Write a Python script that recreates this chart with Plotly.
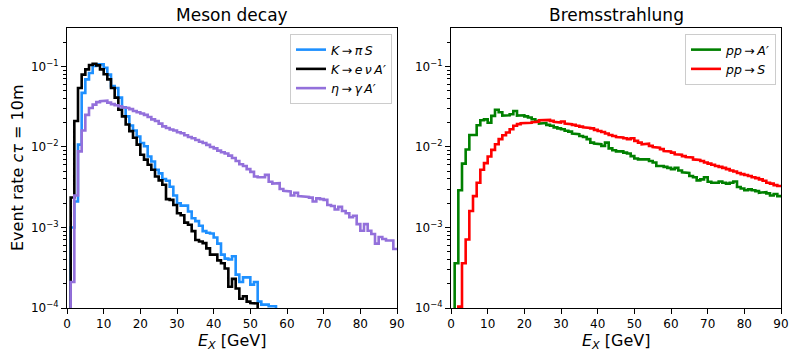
import math
import plotly.graph_objects as go

# ---------------- data (1 GeV bins, edges 0..90) ----------------
bin_edges = list(range(0, 91))

K_pi_S = [
    0, 1.0e-3, 2.1e-3, 1.07e-2, 4.7e-2, 6.9e-2, 8.3e-2, 0.101, 0.106, 0.106,
    0.096, 0.079, 0.057, 0.054, 0.041, 0.031, 0.024, 0.0185, 0.016, 0.0135,
    0.0112, 0.0102, 7.6e-3, 6.6e-3, 5.2e-3, 4.7e-3, 4.0e-3, 3.8e-3, 3.2e-3, 2.5e-3,
    2.0e-3, 1.87e-3, 1.87e-3, 1.58e-3, 1.3e-3, 1.2e-3, 1.05e-3, 9.0e-4, 8.6e-4, 8.4e-4,
    7.5e-4, 6.3e-4, 4.6e-4, 4.1e-4, 4.0e-4, 4.4e-4, 2.6e-4, 2.1e-4, 2.4e-4, 2.4e-4,
    1.95e-4, 2.1e-4, 1.2e-4, 1.1e-4, 1.1e-4, 1.05e-4, 1.05e-4, 0, 0, 0,
    0, 0, 0, 0, 0, 0, 0, 0, 0, 0,
    0, 0, 0, 0, 0, 0, 0, 0, 0, 0,
    0, 0, 0, 0, 0, 0, 0, 0, 0, 0,
]

K_e_nu_A = [
    0, 2.36e-3, 2.1e-2, 5.4e-2, 7.9e-2, 9.2e-2, 0.104, 0.108, 0.103, 0.092,
    0.080, 0.069, 0.054, 0.041, 0.029, 0.024, 0.019, 0.0157, 0.013, 0.0107,
    8.0e-3, 6.95e-3, 6.0e-3, 5.2e-3, 4.3e-3, 3.84e-3, 3.4e-3, 2.25e-3, 2.2e-3, 1.9e-3,
    1.5e-3, 1.42e-3, 1.15e-3, 1.08e-3, 9.0e-4, 7.0e-4, 6.7e-4, 6.4e-4, 5.5e-4, 4.6e-4,
    4.6e-4, 3.9e-4, 3.6e-4, 3.1e-4, 1.84e-4, 2.3e-4, 1.75e-4, 1.3e-4, 1.4e-4, 1.2e-4,
    1.15e-4, 1.14e-4, 0, 0, 0, 0, 0, 0, 0, 0,
    0, 0, 0, 0, 0, 0, 0, 0, 0, 0,
    0, 0, 0, 0, 0, 0, 0, 0, 0, 0,
    0, 0, 0, 0, 0, 0, 0, 0, 0, 0,
]

eta_gamma_A = [
    0, 2.1e-4, 2.5e-3, 8.8e-3, 1.6e-2, 2.5e-2, 3.05e-2, 3.35e-2, 3.6e-2, 3.7e-2,
    3.75e-2, 3.55e-2, 3.4e-2, 3.3e-2, 3.2e-2, 3.1e-2, 3.05e-2, 2.95e-2, 2.8e-2, 2.7e-2,
    2.6e-2, 2.5e-2, 2.35e-2, 2.2e-2, 2.1e-2, 1.95e-2, 1.8e-2, 1.72e-2, 1.65e-2, 1.6e-2,
    1.52e-2, 1.48e-2, 1.4e-2, 1.33e-2, 1.28e-2, 1.22e-2, 1.16e-2, 1.12e-2, 1.06e-2, 1.0e-2,
    9.6e-3, 9.0e-3, 8.6e-3, 8.3e-3, 7.8e-3, 7.3e-3, 6.7e-3, 6.1e-3, 5.8e-3, 5.3e-3,
    4.9e-3, 4.3e-3, 4.2e-3, 4.2e-3, 4.5e-3, 3.7e-3, 3.5e-3, 3.55e-3, 3.0e-3, 2.85e-3,
    2.8e-3, 2.5e-3, 2.7e-3, 2.45e-3, 2.4e-3, 2.4e-3, 2.35e-3, 2.1e-3, 2.3e-3, 2.25e-3,
    2.2e-3, 1.9e-3, 1.85e-3, 1.67e-3, 1.8e-3, 1.6e-3, 1.5e-3, 1.34e-3, 1.4e-3, 1.1e-3,
    9.1e-4, 1.1e-3, 9.1e-4, 8.3e-4, 6.3e-4, 7.6e-4, 7.2e-4, 6.9e-4, 6.9e-4, 5.4e-4,
]

pp_A = [
    0, 3.6e-4, 2.9e-3, 6.2e-3, 9.3e-3, 1.41e-2, 1.41e-2, 1.86e-2, 2.15e-2, 2.2e-2,
    2.0e-2, 2.43e-2, 2.9e-2, 2.7e-2, 2.45e-2, 2.47e-2, 2.55e-2, 2.8e-2, 2.45e-2, 2.47e-2,
    2.4e-2, 2.32e-2, 2.21e-2, 2.1e-2, 1.95e-2, 1.98e-2, 1.88e-2, 1.83e-2, 1.75e-2, 1.7e-2,
    1.66e-2, 1.59e-2, 1.55e-2, 1.47e-2, 1.44e-2, 1.37e-2, 1.33e-2, 1.25e-2, 1.13e-2, 1.1e-2,
    1.08e-2, 1.03e-2, 1.13e-2, 9.6e-3, 9.1e-3, 8.8e-3, 8.8e-3, 8.5e-3, 8.3e-3, 7.7e-3,
    7.2e-3, 7.0e-3, 7.0e-3, 7.0e-3, 6.7e-3, 6.4e-3, 5.8e-3, 5.8e-3, 5.65e-3, 5.5e-3,
    5.3e-3, 5.5e-3, 5.1e-3, 4.85e-3, 4.75e-3, 4.35e-3, 4.2e-3, 3.85e-3, 3.96e-3, 4.2e-3,
    3.7e-3, 3.6e-3, 3.6e-3, 3.72e-3, 3.6e-3, 3.5e-3, 3.6e-3, 3.72e-3, 3.18e-3, 3.05e-3,
    2.9e-3, 2.97e-3, 2.9e-3, 2.83e-3, 2.7e-3, 2.75e-3, 2.65e-3, 2.5e-3, 2.6e-3, 2.45e-3,
]

pp_S = [
    0, 0, 1.04e-4, 3.6e-4, 7.1e-4, 1.6e-3, 2.45e-3, 3.6e-3, 5.2e-3, 6.3e-3,
    7.6e-3, 9.2e-3, 1.08e-2, 1.25e-2, 1.4e-2, 1.51e-2, 1.66e-2, 1.83e-2, 1.92e-2, 1.97e-2,
    2.0e-2, 2.0e-2, 2.03e-2, 2.06e-2, 2.15e-2, 2.17e-2, 2.17e-2, 2.11e-2, 2.05e-2, 2.01e-2,
    2.07e-2, 1.95e-2, 1.92e-2, 1.88e-2, 1.83e-2, 1.79e-2, 1.75e-2, 1.72e-2, 1.7e-2, 1.63e-2,
    1.58e-2, 1.53e-2, 1.47e-2, 1.41e-2, 1.37e-2, 1.33e-2, 1.31e-2, 1.28e-2, 1.25e-2, 1.28e-2,
    1.19e-2, 1.13e-2, 1.08e-2, 1.1e-2, 1.03e-2, 1.0e-2, 9.8e-3, 9.4e-3, 8.9e-3, 8.8e-3,
    8.5e-3, 8.1e-3, 8.0e-3, 7.7e-3, 7.5e-3, 7.4e-3, 7.0e-3, 6.9e-3, 6.7e-3, 6.4e-3,
    6.2e-3, 6.0e-3, 5.8e-3, 5.65e-3, 5.5e-3, 5.3e-3, 5.1e-3, 4.95e-3, 4.75e-3, 4.6e-3,
    4.48e-3, 4.35e-3, 4.2e-3, 4.1e-3, 3.96e-3, 3.8e-3, 3.6e-3, 3.5e-3, 3.36e-3, 3.27e-3,
]

x_ticks = [0, 10, 20, 30, 40, 50, 60, 70, 80, 90]
y_ticks = [1e-4, 1e-3, 1e-2, 1e-1]
y_ticktext = ["10<sup>−4</sup>", "10<sup>−3</sup>", "10<sup>−2</sup>", "10<sup>−1</sup>"]

# ---------------- helpers ----------------
FLOOR = 1e-9  # below the visible range: an empty bin on the log axis


def step_outline(edges, counts):
    """matplotlib histtype='step' outline (histogram continues past the axis end)"""
    xs, ys = [edges[0]], [FLOOR]
    for k, c in enumerate(counts):
        v = c if c > 0 else FLOOR
        xs += [edges[k], edges[k + 1]]
        ys += [v, v]
    return xs, ys


LW = 2.6
series_left = [
    (K_pi_S, "#1E90FF", "<i>K</i>\u2009→\u2009<i>π\u2009S</i>"),
    (K_e_nu_A, "#000000", "<i>K</i>\u2009→\u2009<i>e\u2009ν\u2009A′</i>"),
    (eta_gamma_A, "#9370DB", "<i>η</i>\u2009→\u2009<i>γ\u2009A′</i>"),
]
series_right = [
    (pp_A, "#008000", "<i>pp</i>\u2009→\u2009<i>A′</i>"),
    (pp_S, "#FF0000", "<i>pp</i>\u2009→\u2009<i>S</i>"),
]

fig = go.Figure()
for vals, col, name in series_left:
    xs, ys = step_outline(bin_edges, vals)
    fig.add_trace(go.Scatter(x=xs, y=ys, mode="lines", name=name,
                             line=dict(color=col, width=LW),
                             xaxis="x", yaxis="y", legend="legend"))
for vals, col, name in series_right:
    xs, ys = step_outline(bin_edges, vals)
    fig.add_trace(go.Scatter(x=xs, y=ys, mode="lines", name=name,
                             line=dict(color=col, width=LW),
                             xaxis="x2", yaxis="y2", legend="legend2"))

W, H = 798, 360


def px(p):
    return p / W


def py(p):
    return 1 - p / H


L_left, L_right = 67, 397
R_left, R_right = 451, 781
P_top, P_bot = 28, 308

minor_vals = [m * 10.0 ** e for e in range(-4, 0) for m in range(2, 10) if m * 10.0 ** e <= 0.3]

common_x = dict(range=[0, 90], tickvals=x_ticks, ticks="outside", ticklen=5, tickwidth=1,
                tickcolor="black", showline=True, linecolor="black", linewidth=1, mirror=True,
                showgrid=False, zeroline=False, tickfont=dict(size=12, color="black"),
                automargin=False)
common_y = dict(type="log", range=[-4, math.log10(0.3)], tickvals=y_ticks, ticktext=y_ticktext,
                ticks="outside", ticklen=5, tickwidth=1, tickcolor="black",
                minor=dict(tickvals=minor_vals, ticks="outside", ticklen=3, tickwidth=0.8,
                           tickcolor="black", showgrid=False),
                showline=True, linecolor="black", linewidth=1, mirror=True,
                showgrid=False, zeroline=False, tickfont=dict(size=12, color="black"),
                automargin=False)

ydom = [py(P_bot), py(P_top)]
fig.update_layout(
    width=W, height=H,
    margin=dict(l=0, r=0, t=0, b=0),
    paper_bgcolor="white", plot_bgcolor="white",
    font=dict(family="DejaVu Sans", color="black"),
    xaxis=dict(domain=[px(L_left), px(L_right)], anchor="y", **common_x),
    yaxis=dict(domain=ydom, anchor="x", **common_y),
    xaxis2=dict(domain=[px(R_left), px(R_right)], anchor="y2", **common_x),
    yaxis2=dict(domain=ydom, anchor="x2", **common_y),
    legend=dict(x=px(392), xanchor="right", y=py(34), yanchor="top",
                bgcolor="rgba(255,255,255,0.8)", bordercolor="#cccccc", borderwidth=1,
                font=dict(size=12.5), tracegroupgap=0),
    legend2=dict(x=px(776), xanchor="right", y=py(34), yanchor="top",
                 bgcolor="rgba(255,255,255,0.8)", bordercolor="#cccccc", borderwidth=1,
                 font=dict(size=12.5), tracegroupgap=0),
    showlegend=True,
)

ann = []
ann.append(dict(text="Meson decay", x=px((L_left + L_right) / 2), y=py(15),
                xref="paper", yref="paper", showarrow=False, font=dict(size=17),
                xanchor="center", yanchor="middle"))
ann.append(dict(text="Bremsstrahlung", x=px((R_left + R_right) / 2), y=py(15),
                xref="paper", yref="paper", showarrow=False, font=dict(size=17),
                xanchor="center", yanchor="middle"))
for cx in [(L_left + L_right) / 2, (R_left + R_right) / 2]:
    ann.append(dict(text="<i>E<sub>X</sub></i> [GeV]", x=px(cx), y=py(341),
                    xref="paper", yref="paper", showarrow=False, font=dict(size=16),
                    xanchor="center", yanchor="middle"))
ann.append(dict(text="Event rate <i>cτ</i> = 10m", x=px(17), y=py(168),
                xref="paper", yref="paper", showarrow=False, font=dict(size=16),
                textangle=-90, xanchor="center", yanchor="middle"))
fig.update_layout(annotations=ann)

# the page body otherwise adds an 8px margin around the figure
fig.write_html("out.html", config={"displayModeBar": False},
               post_script="document.body.style.margin='0px';")
